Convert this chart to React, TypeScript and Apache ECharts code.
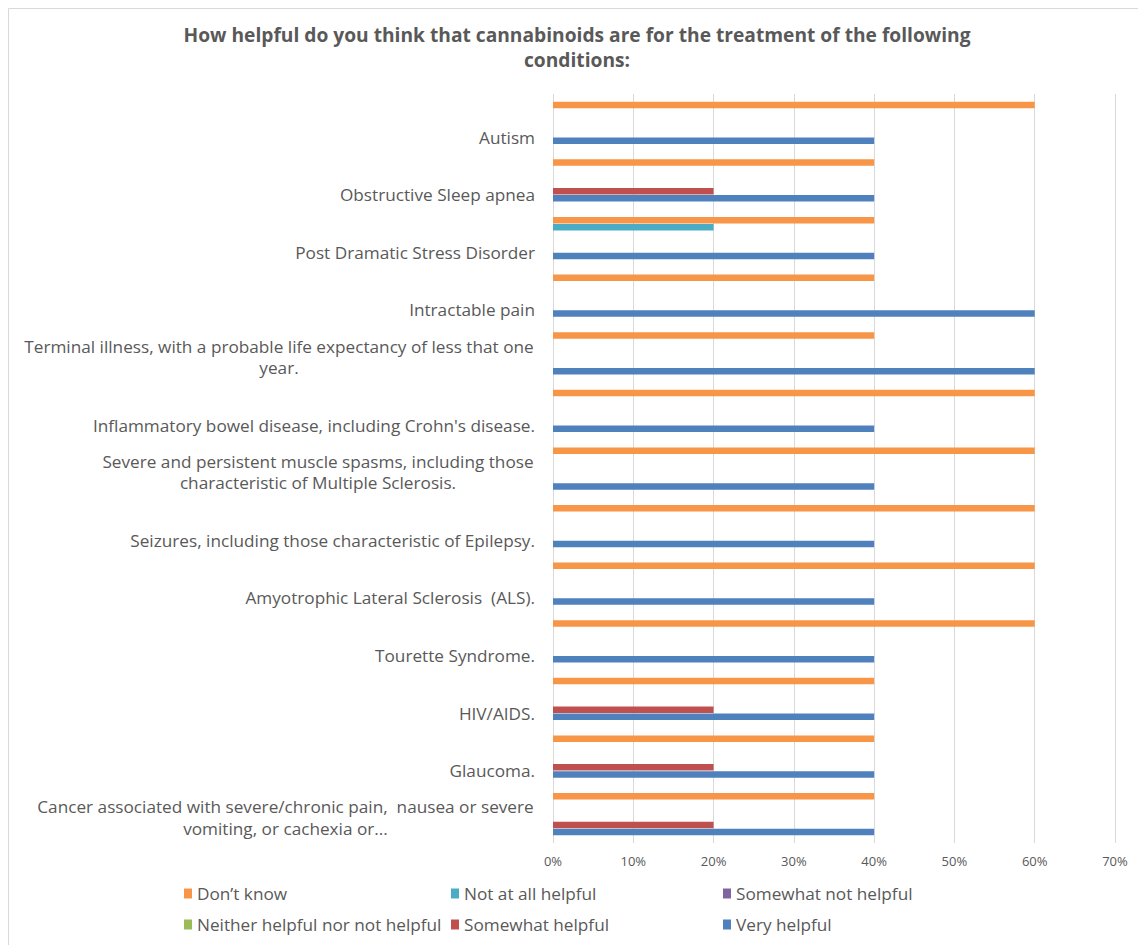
import React, { useEffect, useRef } from "react";
import * as echarts from "echarts";

const categories = [
  "Cancer associated with severe/chronic pain,  nausea or severe\nvomiting, or cachexia or...",
  "Glaucoma.",
  "HIV/AIDS.",
  "Tourette Syndrome.",
  "Amyotrophic Lateral Sclerosis  (ALS).",
  "Seizures, including those characteristic of Epilepsy.",
  "Severe and persistent muscle spasms, including those\ncharacteristic of Multiple Sclerosis.",
  "Inflammatory bowel disease, including Crohn's disease.",
  "Terminal illness, with a probable life expectancy of less that one\nyear.",
  "Intractable pain",
  "Post Dramatic Stress Disorder",
  "Obstructive Sleep apnea",
  "Autism",
];

const dontKnow = [40, 40, 40, 60, 60, 60, 60, 60, 40, 40, 40, 40, 60];
const notAtAllHelpful = [0, 0, 0, 0, 0, 0, 0, 0, 0, 0, 20, 0, 0];
const somewhatNotHelpful = [0, 0, 0, 0, 0, 0, 0, 0, 0, 0, 0, 0, 0];
const neitherHelpful = [0, 0, 0, 0, 0, 0, 0, 0, 0, 0, 0, 0, 0];
const somewhatHelpful = [20, 20, 20, 0, 0, 0, 0, 0, 0, 0, 0, 20, 0];
const veryHelpful = [40, 40, 40, 40, 40, 40, 40, 40, 60, 60, 40, 40, 40];

const seriesNames = [
  "Don’t know",
  "Not at all helpful",
  "Somewhat not helpful",
  "Neither helpful nor not helpful",
  "Somewhat helpful",
  "Very helpful",
];
const seriesValues = [dontKnow, notAtAllHelpful, somewhatNotHelpful, neitherHelpful, somewhatHelpful, veryHelpful];
const seriesColors = ["#F79646", "#4BACC6", "#8064A2", "#9BBB59", "#C0504D", "#4F81BD"];

const xTicks = { min: 0, max: 70, interval: 10 };
const title = "How helpful do you think that cannabinoids are for the treatment of the following\nconditions:";

const FONT = "Open Sans";
const LABEL_SIZE = 17.2;
const TEXT_COLOR = "#595959";

export default function App() {
  const ref = useRef<HTMLDivElement>(null);
  useEffect(() => {
    if (!ref.current) return;
    const chart = echarts.init(ref.current, null, { renderer: "svg" });

    const ctx = document.createElement("canvas").getContext("2d")!;
    ctx.font = `${LABEL_SIZE}px "${FONT}"`;
    const rich: Record<string, any> = {};
    const base = { fontFamily: FONT, fontSize: LABEL_SIZE, color: TEXT_COLOR };
    categories.forEach((c, i) => {
      const lines = c.split("\n");
      if (lines.length > 1) {
        const W = Math.ceil(Math.max(...lines.map((l) => ctx.measureText(l).width))) + 2;
        rich["a" + i] = { ...base, width: W, align: "center", height: 21.5, lineHeight: 28.5, verticalAlign: "bottom" };
        rich["b" + i] = { ...base, width: W, align: "center", height: 21.5, lineHeight: 21.5 };
      } else {
        rich["s" + i] = { ...base, height: 21.5, lineHeight: 50, verticalAlign: "bottom" };
      }
    });

    const legendCols = [
      { left: 179, data: [seriesNames[0], seriesNames[3]] },
      { left: 446, data: [seriesNames[1], seriesNames[4]] },
      { left: 718, data: [seriesNames[2], seriesNames[5]] },
    ];

    chart.setOption({
      animation: false,
      title: {
        text: title,
        left: 572,
        top: 17,
        textAlign: "center",
        textStyle: { fontFamily: FONT, fontSize: 19.2, fontWeight: "bold", color: TEXT_COLOR, lineHeight: 25 },
      },
      legend: legendCols.map((col) => ({
        orient: "vertical",
        left: col.left,
        top: 880,
        itemWidth: 8,
        itemHeight: 10,
        itemGap: 14,
        icon: "rect",
        data: col.data,
        textStyle: { fontFamily: FONT, fontSize: LABEL_SIZE, color: TEXT_COLOR, padding: [0, 0, 0, 0] },
      })),
      grid: { left: 553, right: 23, top: 94, height: 749, containLabel: false },
      xAxis: {
        type: "value",
        min: xTicks.min,
        max: xTicks.max,
        interval: xTicks.interval,
        axisLine: { show: false },
        axisTick: { show: false },
        axisLabel: { formatter: "{value}%", fontFamily: FONT, fontSize: 13, color: TEXT_COLOR, margin: 11 },
        splitLine: { show: true, lineStyle: { color: "#D9D9D9", width: 1 } },
      },
      yAxis: {
        type: "category",
        data: categories,
        axisLine: { show: false },
        axisTick: { show: false },
        axisLabel: {
          interval: 0,
          margin: 18,
          formatter: (value: string, index: number) => {
            const lines = value.split("\n");
            if (lines.length > 1) return `{a${index}|${lines[0]}}\n{b${index}|${lines[1]}}`;
            return `{s${index}|${value}}`;
          },
          rich,
        },
      },
      series: seriesNames.map((name, i) => ({
        name,
        type: "bar",
        data: seriesValues[i],
        barWidth: 6.5,
        barGap: "10%",
        itemStyle: { color: seriesColors[i] },
      })),
      graphic: [
        {
          type: "rect",
          shape: { x: 8.5, y: 8.5, width: 1140, height: 950 },
          style: { fill: "none", stroke: "#D9D9D9", lineWidth: 1 },
          silent: true,
        },
      ],
    });
    return () => chart.dispose();
  }, []);
  return <div ref={ref} style={{ position: "absolute", left: 0, top: 0, width: 1138, height: 945 }} />;
}
